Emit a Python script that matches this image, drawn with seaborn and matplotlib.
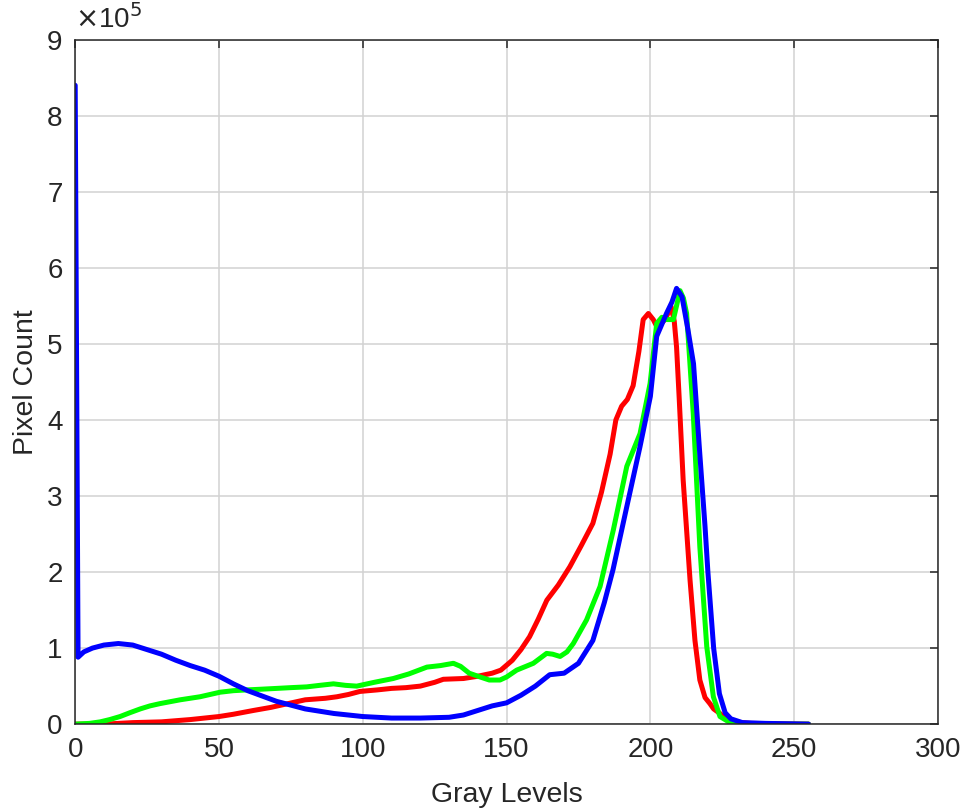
import pandas as pd
import seaborn as sns
import matplotlib.pyplot as plt

# gray level histogram per channel (counts in units of 1e5)
red_x = [0, 10, 20, 30, 40, 50, 55, 62, 68, 74, 80, 87, 91, 95, 99, 105, 110, 115, 120, 125,
         128, 135, 140, 145, 148, 152, 155, 158, 161, 164, 168, 172, 176, 180, 183, 186, 188,
         190, 192, 194, 196, 197.5, 199.3, 201, 202.2, 204, 205.1, 207.2, 208.3, 209.1, 210,
         211.4, 213.8, 215.5, 217.2, 219, 220.7, 222, 224.2, 226, 229, 235, 255]
red_y = [0.0, 0.0, 0.02, 0.03, 0.06, 0.1, 0.13, 0.18, 0.22, 0.27, 0.32, 0.34, 0.36, 0.39, 0.43,
         0.45, 0.47, 0.48, 0.5, 0.55, 0.59, 0.6, 0.63, 0.67, 0.71, 0.84, 0.98, 1.15, 1.38, 1.63,
         1.83, 2.07, 2.35, 2.64, 3.05, 3.55, 4.0, 4.18, 4.27, 4.45, 4.9, 5.32, 5.40, 5.32, 5.23,
         5.28, 5.32, 5.49, 5.3, 4.96, 4.3, 3.21, 1.89, 1.1, 0.58, 0.35, 0.27, 0.2, 0.14, 0.08,
         0.03, 0.01, 0.0]

green_x = [0, 5, 8.7, 12, 15.6, 19, 22.6, 26, 29.5, 36.5, 43.4, 50.4, 55, 59.7, 65, 70.1, 75,
           80.5, 85, 89.8, 94, 97.9, 104, 110.6, 116, 122.3, 127, 131.5, 134, 137, 140.8, 144,
           147.7, 150, 153.5, 159.3, 163.9, 166, 168.6, 171, 173.2, 177.8, 182.5, 187.1, 191.8,
           196.4, 199.9, 202.2, 204, 205.6, 208, 210.3, 211.5, 212.6, 214.9, 217.2, 219.6,
           221.9, 224.2, 227.7, 235, 255]
green_y = [0.0, 0.01, 0.03, 0.06, 0.1, 0.15, 0.2, 0.24, 0.27, 0.32, 0.36, 0.42, 0.44, 0.45, 0.46,
           0.47, 0.48, 0.49, 0.51, 0.53, 0.51, 0.5, 0.55, 0.6, 0.66, 0.75, 0.77, 0.8, 0.76, 0.67,
           0.62, 0.58, 0.58, 0.62, 0.71, 0.8, 0.93, 0.92, 0.89, 0.95, 1.06, 1.37, 1.81, 2.55,
           3.39, 3.82, 4.48, 5.27, 5.35, 5.32, 5.32, 5.7, 5.6, 5.4, 4.09, 2.33, 1.02, 0.36, 0.1,
           0.02, 0.0, 0.0]

blue_x = [0, 1, 3, 6, 10, 15, 20, 25, 30, 35, 40, 45, 50, 55, 60, 65, 70, 75, 80, 85, 90, 95,
          100, 110, 120, 130, 135, 140, 145, 150, 155, 160, 165, 170, 175, 180, 184, 187, 191.8,
          196.4, 200, 202.2, 205.6, 207.5, 209.1, 211, 213, 215, 217, 219, 220, 222, 224, 226,
          228, 232, 240, 255]
blue_y = [8.4, 0.88, 0.95, 1.0, 1.04, 1.06, 1.04, 0.98, 0.92, 0.84, 0.77, 0.71, 0.63, 0.53, 0.44,
          0.37, 0.30, 0.25, 0.20, 0.17, 0.14, 0.12, 0.10, 0.08, 0.08, 0.09, 0.12, 0.18, 0.24,
          0.28, 0.38, 0.5, 0.65, 0.67, 0.8, 1.1, 1.6, 2.03, 2.86, 3.65, 4.31, 5.1, 5.4, 5.55,
          5.73, 5.62, 5.2, 4.74, 3.65, 2.6, 2.0, 1.0, 0.4, 0.15, 0.07, 0.02, 0.01, 0.0]

df = pd.concat([
    pd.DataFrame({'gray': red_x, 'count': red_y, 'channel': 'R'}),
    pd.DataFrame({'gray': green_x, 'count': green_y, 'channel': 'G'}),
    pd.DataFrame({'gray': blue_x, 'count': blue_y, 'channel': 'B'}),
])

sns.set_style('white')
plt.rcParams['font.family'] = ['Liberation Sans', 'DejaVu Sans']

fig = plt.figure(figsize=(9.64, 8.10), dpi=100)
ax = fig.add_axes([0.078, 0.106, 0.895, 0.845])

sns.lineplot(data=df, x='gray', y='count', hue='channel', sort=False, estimator=None,
             palette={'R': '#ff0000', 'G': '#00ff00', 'B': '#0000ff'},
             linewidth=3.6, legend=False, ax=ax,
             solid_joinstyle='round', solid_capstyle='round')

ax.set_xlim(0, 300)
ax.set_ylim(0, 9)
ax.set_xticks(range(0, 301, 50))
ax.set_yticks(range(0, 10))
ax.grid(True, color='#d2d2d2', linewidth=1.1)
ax.set_axisbelow(True)
for s in ax.spines.values():
    s.set_color('#262626')
    s.set_linewidth(1.1)
ax.tick_params(direction='in', length=6, width=1.1, top=True, right=True,
               labelsize=20, colors='#262626', pad=9)

ax.set_xlabel('Gray Levels', fontsize=20.5, color='#262626', labelpad=14)
ax.set_ylabel('Pixel Count', fontsize=20.5, color='#262626', labelpad=6)
ax.text(0.0, 1.008, r'$\times$10$^5$', transform=ax.transAxes, fontsize=20,
        color='#262626', ha='left', va='bottom')

plt.savefig('out.png', dpi=100)
